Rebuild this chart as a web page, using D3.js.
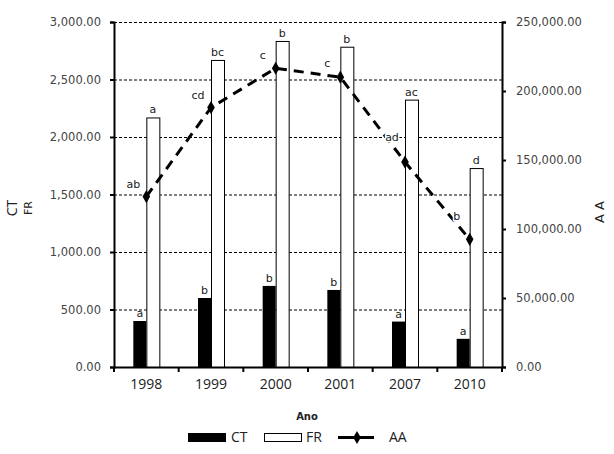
<!DOCTYPE html>
<html>
<head>
<meta charset="utf-8">
<script src="https://cdn.jsdelivr.net/npm/d3@7"></script>
<style>
  body { margin: 0; background: #fff; }
  svg { display: block; }
  text { fill: #222; }
</style>
</head>
<body>
<svg width="614" height="454"></svg>
<script>
// values
var years = ['1998', '1999', '2000', '2001', '2007', '2010'];
var ctValues = [400, 600, 705, 670, 395, 245];
var frValues = [2170, 2670, 2835, 2785, 2325, 1730];
var aaValues = [123500, 188000, 216500, 210000, 148500, 92500];
var ctLetters = ['a', 'b', 'b', 'b', 'a', 'a'];
var frLetters = ['a', 'bc', 'b', 'b', 'ac', 'd'];
var aaLetters = ['ab', 'cd', 'c', 'c', 'ad', 'b'];
var leftTicks = [0, 500, 1000, 1500, 2000, 2500, 3000];
var rightTicks = [0, 50000, 100000, 150000, 200000, 250000];

var svg = d3.select('svg');
var plotLeft = 114, plotRight = 502, plotTop = 22, plotBottom = 367;
var fmt = d3.format(',.2f');
var tickFont = '"DejaVu Sans", Verdana, sans-serif';

var x = d3.scaleBand().domain(years).range([plotLeft, plotRight]);
var yL = d3.scaleLinear().domain([0, 3000]).range([plotBottom, plotTop]);
var yR = d3.scaleLinear().domain([0, 250000]).range([plotBottom, plotTop]);
var barW = 13;
var mid = function(i) { return x(years[i]) + x.bandwidth() / 2; };

// dashed grid lines
svg.append('g')
  .selectAll('line')
  .data(leftTicks.slice(1))
  .enter().append('line')
    .attr('x1', plotLeft).attr('x2', plotRight)
    .attr('y1', function(d) { return yL(d) + 0.5; })
    .attr('y2', function(d) { return yL(d) + 0.5; })
    .attr('stroke', '#000')
    .attr('stroke-width', 1)
    .attr('stroke-dasharray', '3,2');

// bars
svg.append('g').selectAll('rect')
  .data(ctValues)
  .enter().append('rect')
    .attr('x', function(d, i) { return mid(i) - barW; })
    .attr('y', function(d) { return yL(d); })
    .attr('width', barW)
    .attr('height', function(d) { return plotBottom - yL(d); })
    .attr('fill', '#000');

svg.append('g').selectAll('rect')
  .data(frValues)
  .enter().append('rect')
    .attr('x', function(d, i) { return mid(i) + 0.5; })
    .attr('y', function(d) { return yL(d) + 0.5; })
    .attr('width', barW)
    .attr('height', function(d) { return plotBottom - yL(d); })
    .attr('fill', '#fff')
    .attr('stroke', '#000')
    .attr('stroke-width', 1);

// letters over the bars
svg.append('g').selectAll('text')
  .data(ctLetters)
  .enter().append('text')
    .text(function(d) { return d; })
    .attr('x', function(d, i) { return mid(i) - barW / 2; })
    .attr('y', function(d, i) { return yL(ctValues[i]) - 4; })
    .attr('text-anchor', 'middle')
    .style('font', '11px ' + tickFont);

svg.append('g').selectAll('text')
  .data(frLetters)
  .enter().append('text')
    .text(function(d) { return d; })
    .attr('x', function(d, i) { return mid(i) + barW / 2; })
    .attr('y', function(d, i) { return yL(frValues[i]) - 4; })
    .attr('text-anchor', 'middle')
    .style('font', '11px ' + tickFont);

// AA dashed line with diamonds
var line = d3.line()
  .x(function(d, i) { return mid(i); })
  .y(function(d) { return yR(d); });

svg.append('path')
  .datum(aaValues)
  .attr('d', line)
  .attr('fill', 'none')
  .attr('stroke', '#000')
  .attr('stroke-width', 3)
  .attr('stroke-dasharray', '10,7');

var diamond = d3.symbol().type(d3.symbolDiamond).size(50);
svg.append('g').selectAll('path')
  .data(aaValues)
  .enter().append('path')
    .attr('d', diamond)
    .attr('transform', function(d, i) { return 'translate(' + mid(i) + ',' + yR(d) + ')'; })
    .attr('fill', '#000');

// AA letters sit up-left of the marker, lifted more where the line comes down steeply
svg.append('g').selectAll('text')
  .data(aaLetters)
  .enter().append('text')
    .text(function(d) { return d; })
    .attr('x', function(d, i) { return mid(i) - 13; })
    .attr('y', function(d, i) {
      var slope = i > 0 ? (yR(aaValues[i]) - yR(aaValues[i - 1])) / x.bandwidth() : 0;
      return yR(aaValues[i]) - 9 - 9 * Math.max(0, slope);
    })
    .attr('text-anchor', 'middle')
    .style('font', '11px ' + tickFont)
    .style('stroke', '#fff')
    .style('stroke-width', 3)
    .style('paint-order', 'stroke');

// axes
var axisL = svg.append('g')
  .attr('transform', 'translate(' + plotLeft + ',0)')
  .call(d3.axisLeft(yL).tickValues(leftTicks).tickFormat(fmt).tickSize(4).tickPadding(9));
var axisR = svg.append('g')
  .attr('transform', 'translate(' + plotRight + ',0)')
  .call(d3.axisRight(yR).tickValues(rightTicks).tickFormat(fmt).tickSize(4).tickPadding(10));
var axisB = svg.append('g')
  .attr('transform', 'translate(0,' + plotBottom + ')')
  .call(d3.axisBottom(x).tickSize(0).tickPadding(12));

[axisL, axisR].forEach(function(a) {
  a.select('.domain').attr('stroke-width', 2);
  a.selectAll('.tick line').attr('stroke-width', 2);
  a.selectAll('text').style('font', '11.5px ' + tickFont).style('fill', '#444');
});
axisB.select('.domain').attr('stroke-width', 2);
axisB.selectAll('text').style('font', '14px "Open Sans", sans-serif').style('fill', '#222');

// tick marks between the categories
svg.append('g').selectAll('line')
  .data(years.concat(['end']))
  .enter().append('line')
    .attr('x1', function(d, i) { return i < years.length ? x(d) : plotRight; })
    .attr('x2', function(d, i) { return i < years.length ? x(d) : plotRight; })
    .attr('y1', plotBottom).attr('y2', plotBottom + 5)
    .attr('stroke', '#000').attr('stroke-width', 2);

// axis titles
svg.append('text').text('CT')
  .attr('transform', 'translate(17,208) rotate(-90)')
  .attr('text-anchor', 'middle')
  .style('font', '14px "Open Sans", sans-serif');
svg.append('text').text('FR')
  .attr('transform', 'translate(32,208) rotate(-90)')
  .attr('text-anchor', 'middle')
  .style('font', '11px "DejaVu Sans", sans-serif');
svg.append('text').text('A A')
  .attr('transform', 'translate(604,212) rotate(-90)')
  .attr('text-anchor', 'middle')
  .style('font', '13px "DejaVu Sans", sans-serif');
svg.append('text').text('Ano')
  .attr('x', 307).attr('y', 420)
  .attr('text-anchor', 'middle')
  .style('font', 'bold 10px "DejaVu Sans", sans-serif');

// legend
var legend = svg.append('g');
legend.append('rect').attr('x', 188).attr('y', 433).attr('width', 38).attr('height', 9).attr('fill', '#000');
legend.append('text').text('CT').attr('x', 231).attr('y', 442).style('font', '14px "Open Sans", sans-serif');
legend.append('rect').attr('x', 264.5).attr('y', 433.5).attr('width', 37).attr('height', 8)
  .attr('fill', '#fff').attr('stroke', '#000');
legend.append('text').text('FR').attr('x', 306).attr('y', 442).style('font', '14px "Open Sans", sans-serif');
legend.append('line').attr('x1', 338).attr('x2', 374).attr('y1', 437.5).attr('y2', 437.5)
  .attr('stroke', '#000').attr('stroke-width', 3);
legend.append('path').attr('d', diamond).attr('transform', 'translate(357,437.5)').attr('fill', '#000');
legend.append('text').text('AA').attr('x', 389).attr('y', 442).style('font', '14px "Open Sans", sans-serif');
</script>
</body>
</html>
